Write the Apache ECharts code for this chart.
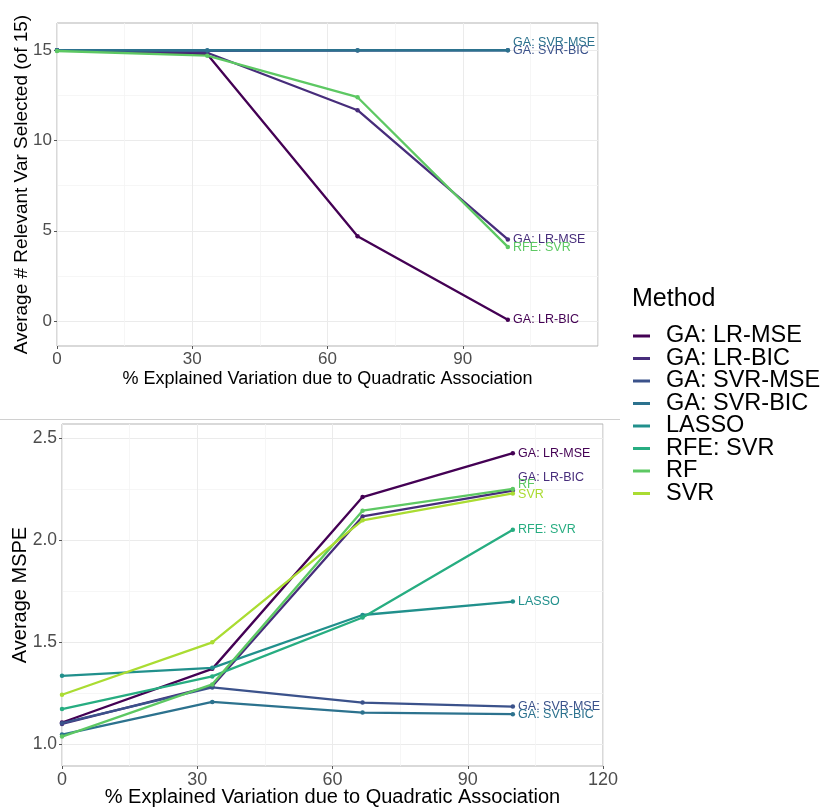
<!DOCTYPE html>
<html><head><meta charset="utf-8">
<script src="https://cdn.jsdelivr.net/npm/echarts@6/dist/echarts.min.js"></script>
<style>html,body{margin:0;padding:0;background:#fff}#chart{width:827px;height:812px}</style>
</head><body><div id="chart"></div>
<script>
// ---------- data ----------
const xValues = [0, 33.33, 66.67, 100];
const methods = ['GA: LR-MSE', 'GA: LR-BIC', 'GA: SVR-MSE', 'GA: SVR-BIC', 'LASSO', 'RFE: SVR', 'RF', 'SVR'];
const palette = ['#440154', '#472D7B', '#3B528B', '#2C728E', '#21908C', '#27AD81', '#5DC863', '#AADC32'];

// top panel: Average # Relevant Var Selected (of 15)
const topNames = ['GA: LR-BIC', 'GA: LR-MSE', 'GA: SVR-BIC', 'GA: SVR-MSE', 'RFE: SVR'];
const topColors = ['#440154', '#472D7B', '#3B528B', '#2C728E', '#5DC863'];
const topLRBIC = [15.0, 14.78, 4.70, 0.07];
const topLRMSE = [15.0, 14.86, 11.68, 4.52];
const topSVRBIC = [15.0, 14.97, 14.98, 15.0];
const topSVRMSE = [15.0, 15.0, 15.0, 15.0];
const topRFE = [14.96, 14.70, 12.40, 4.11];
const topValues = [topLRBIC, topLRMSE, topSVRBIC, topSVRMSE, topRFE];
const topYTicks = [0, 5, 10, 15];
const topYMinor = [2.5, 7.5, 12.5];

// bottom panel: Average MSPE
const mspeLRMSE = [1.107, 1.370, 2.212, 2.427];
const mspeLRBIC = [1.100, 1.285, 2.117, 2.244];
const mspeSVRMSE = [1.104, 1.279, 1.205, 1.185];
const mspeSVRBIC = [1.048, 1.208, 1.156, 1.148];
const mspeLASSO = [1.336, 1.375, 1.634, 1.700];
const mspeRFE = [1.173, 1.333, 1.622, 2.052];
const mspeRF = [1.038, 1.294, 2.145, 2.252];
const mspeSVR = [1.243, 1.500, 2.098, 2.230];
const bottomValues = [mspeLRMSE, mspeLRBIC, mspeSVRMSE, mspeSVRBIC, mspeLASSO, mspeRFE, mspeRF, mspeSVR];
const bottomYTicks = [1.0, 1.5, 2.0, 2.5];
const bottomYMinor = [1.25, 1.75, 2.25];

// ---------- styling ----------
const FONT = "'Liberation Sans', Arial, Helvetica, sans-serif";
const topLabelDy = [0, 0, 0, -8, 1];
const bottomLabelDy = [0, -13, 0, 0, 0, 0, -4, 1];

function mkSeries(id, labelText, values, color, idx, dy, z) {
  return {
    type: 'line', name: id, xAxisIndex: idx, yAxisIndex: idx * 2,
    data: values.map((v, i) => i === values.length - 1 ? {
      value: [xValues[i], v],
      label: { show: true, formatter: labelText, position: 'right', distance: 3, offset: [0, dy],
               color: color, fontSize: 12.5, fontFamily: FONT }
    } : [xValues[i], v]),
    symbol: 'circle', symbolSize: 4.5, showSymbol: true,
    lineStyle: { width: 2.3, color: color }, itemStyle: { color: color },
    emphasis: { disabled: true }, silent: true, animation: false, z: z
  };
}

const series = [];
topNames.forEach((n, i) => series.push(mkSeries('top ' + n, n, topValues[i], topColors[i], 0, topLabelDy[i], 2 + i * 0.01)));
methods.forEach((n, i) => series.push(mkSeries(n, n, bottomValues[i], palette[i], 1, bottomLabelDy[i], 2 + i * 0.01)));

const tickColor = '#4D4D4D';
function xAxis(gi, showMax, fs, titleFs, gap) {
  return {
    gridIndex: gi, type: 'value', min: 0, max: 120, interval: 30,
    axisLine: { show: false, onZero: false },
    axisTick: { show: true, length: 3, lineStyle: { color: '#555', width: 1 } },
    axisLabel: { fontSize: fs, color: tickColor, margin: 5, fontFamily: FONT, showMaxLabel: showMax, showMinLabel: true },
    splitLine: { show: true, lineStyle: { color: '#EBEBEB', width: 1 } },
    minorTick: { show: false, splitNumber: 2 },
    minorSplitLine: { show: true, lineStyle: { color: '#F4F4F4', width: 0.8 } },
    name: '% Explained Variation due to Quadratic Association', nameLocation: 'middle', nameGap: gap,
    nameMoveOverlap: false,
    nameTextStyle: { fontSize: titleFs, color: '#000', fontFamily: FONT }
  };
}
function yMain(gi, min, max, ticks, name, fmt, fs, titleFs, gap) {
  return {
    gridIndex: gi, type: 'value', min: min, max: max,
    axisLine: { show: false, onZero: false },
    axisTick: { show: true, length: 3, lineStyle: { color: '#555', width: 1 }, customValues: ticks },
    axisLabel: { customValues: ticks, fontSize: fs, color: tickColor, margin: 5, fontFamily: FONT, formatter: fmt },
    splitLine: { show: true, lineStyle: { color: '#EBEBEB', width: 1 } },
    name: name, nameLocation: 'middle', nameGap: gap, nameMoveOverlap: false,
    nameTextStyle: { fontSize: titleFs, color: '#000', fontFamily: FONT }
  };
}
function yMinor(gi, min, max, ticks) {
  return {
    gridIndex: gi, type: 'value', min: min, max: max, position: 'left',
    axisLine: { show: false, onZero: false }, axisLabel: { show: false },
    axisTick: { show: false, customValues: ticks },
    splitLine: { show: true, lineStyle: { color: '#F4F4F4', width: 0.8 } }
  };
}

const option = {
  animation: false,
  backgroundColor: '#fff',
  textStyle: { fontFamily: FONT },
  title: { text: 'Method', left: 632, top: 287, padding: 0,
           textStyle: { fontSize: 25, fontWeight: 'normal', color: '#000', fontFamily: FONT } },
  legend: {
    data: methods, orient: 'vertical', left: 633, top: 324, padding: 0,
    itemWidth: 17, itemHeight: 3, itemGap: -1.5, icon: 'rect', selectedMode: false,
    textStyle: { fontSize: 23.5, lineHeight: 22.6, color: '#000', fontFamily: FONT, padding: [0, 0, 0, 11] }
  },
  grid: [
    { left: 57, top: 23, width: 541, height: 323, show: true, borderColor: '#B3B3B3', borderWidth: 1,
      backgroundColor: 'transparent', containLabel: false, outerBoundsMode: 'none' },
    { left: 62, top: 424, width: 541, height: 342, show: true, borderColor: '#B3B3B3', borderWidth: 1,
      backgroundColor: 'transparent', containLabel: false, outerBoundsMode: 'none' }
  ],
  xAxis: [xAxis(0, false, 17, 18, 24), xAxis(1, true, 18, 20, 21)],
  yAxis: [
    yMain(0, -1.38, 16.51, topYTicks, 'Average # Relevant Var Selected (of 15)', v => String(v), 17, 19, 26),
    yMinor(0, -1.38, 16.51, topYMinor),
    yMain(1, 0.894, 2.570, bottomYTicks, 'Average MSPE', v => Number(v).toFixed(1), 17.5, 20, 32),
    yMinor(1, 0.894, 2.570, bottomYMinor)
  ],
  graphic: [
    { type: 'line', shape: { x1: 0, y1: 419.5, x2: 620, y2: 419.5 }, style: { stroke: '#D0D0D0', lineWidth: 1 }, silent: true }
  ],
  series: series
};

const chart = echarts.init(document.getElementById('chart'), null, { renderer: 'canvas' });
chart.setOption(option);
</script>
</body></html>
